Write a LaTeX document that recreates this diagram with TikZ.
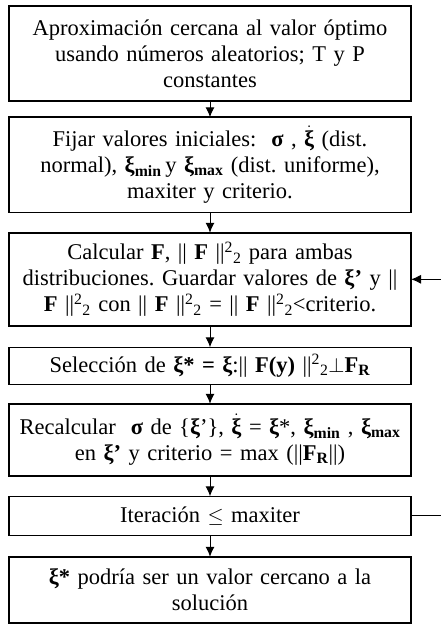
\documentclass[tikz,border=0pt]{standalone}
\usepackage{fontspec}
\setmainfont{Liberation Serif}
\usetikzlibrary{positioning, arrows.meta}
\tikzstyle{block}=[draw,line width=1.6pt,outer sep=0pt,fill=white,rectangle,minimum width=402pt,text width=394pt,align=center,inner ysep=2pt]
\tikzstyle{every node}=[font=\fontsize{22.5}{26}\selectfont]
\newcommand{\nrm}{||\textsuperscript{2}\textsubscript{2}}
\newcommand{\bxi}{\textbf{ξ}}
\newcommand{\dxi}{\ensuremath{\dot{\mbox{\bxi}}}}
\newcommand{\bsig}{\textbf{σ}}
\newcommand{\FR}{\textbf{F}\textsubscript{\textbf{R}}}

\begin{document}
\frenchspacing
\begin{tikzpicture}[x=1pt,y=-1pt,>={Latex[length=10pt,width=9pt]}]
    \clip (0,0) rectangle (441,631);
    \node[block, minimum height=95pt, anchor=north] (aprox) at (210,5.8)
        {Aproximación cercana al valor óptimo\\usando números aleatorios; T y P\\constantes};
    \node[block, minimum height=95pt, below=16.5pt of aprox] (fijar)
        {Fijar valores iniciales: \ \bsig{} , \dxi{} (dist.\\normal), \bxi\textsubscript{\textbf{min}}\,y \bxi\textsubscript{\textbf{max}} (dist. uniforme),\\maxiter y criterio.};
    \node[block, minimum height=93pt, below=20.5pt of fijar] (calc)
        {Calcular \textbf{F}, || \textbf{F} \nrm{} para ambas\\distribuciones. Guardar valores de \bxi\textbf{’} y ||\\\textbf{F} \nrm{} con || \textbf{F} \nrm{} = || \textbf{F} \nrm{}<criterio.};
    \node[block, minimum height=37pt, below=21.5pt of calc] (sel)
        {Selección de \bxi\textbf{* =} \bxi:|| \textbf{F(y)} \nrm{}$\perp$\FR};
    \node[block, minimum height=72pt, below=19.5pt of sel] (recalc)
        {Recalcular \ \bsig{} de \{\bxi’\}, \dxi{} = \bxi*, \bxi\textsubscript{\textbf{min}} , \bxi\textsubscript{\textbf{max}}\\en \bxi\textbf{’} y criterio = max (||\FR||)};
    \node[block, minimum height=39pt, below=20.5pt of recalc] (iter)
        {Iteración $\leq$ maxiter};
    \node[block, minimum height=66pt, below=21.5pt of iter] (sol)
        {\bxi\textbf{*} podría ser un valor cercano a la\\solución};
    \coordinate (back) at (445,0);
    \draw[->, line width=1pt] (aprox) -- (fijar);
    \draw[->, line width=1pt] (fijar) -- (calc);
    \draw[->, line width=1pt] (calc) -- (sel);
    \draw[->, line width=1pt] (sel) -- (recalc);
    \draw[->, line width=1pt] (recalc) -- (iter);
    \draw[->, line width=1pt] (iter) -- (sol);
    \draw[->, line width=1pt] (iter.east) -| (back) |- (calc.east);
\end{tikzpicture}
\end{document}
